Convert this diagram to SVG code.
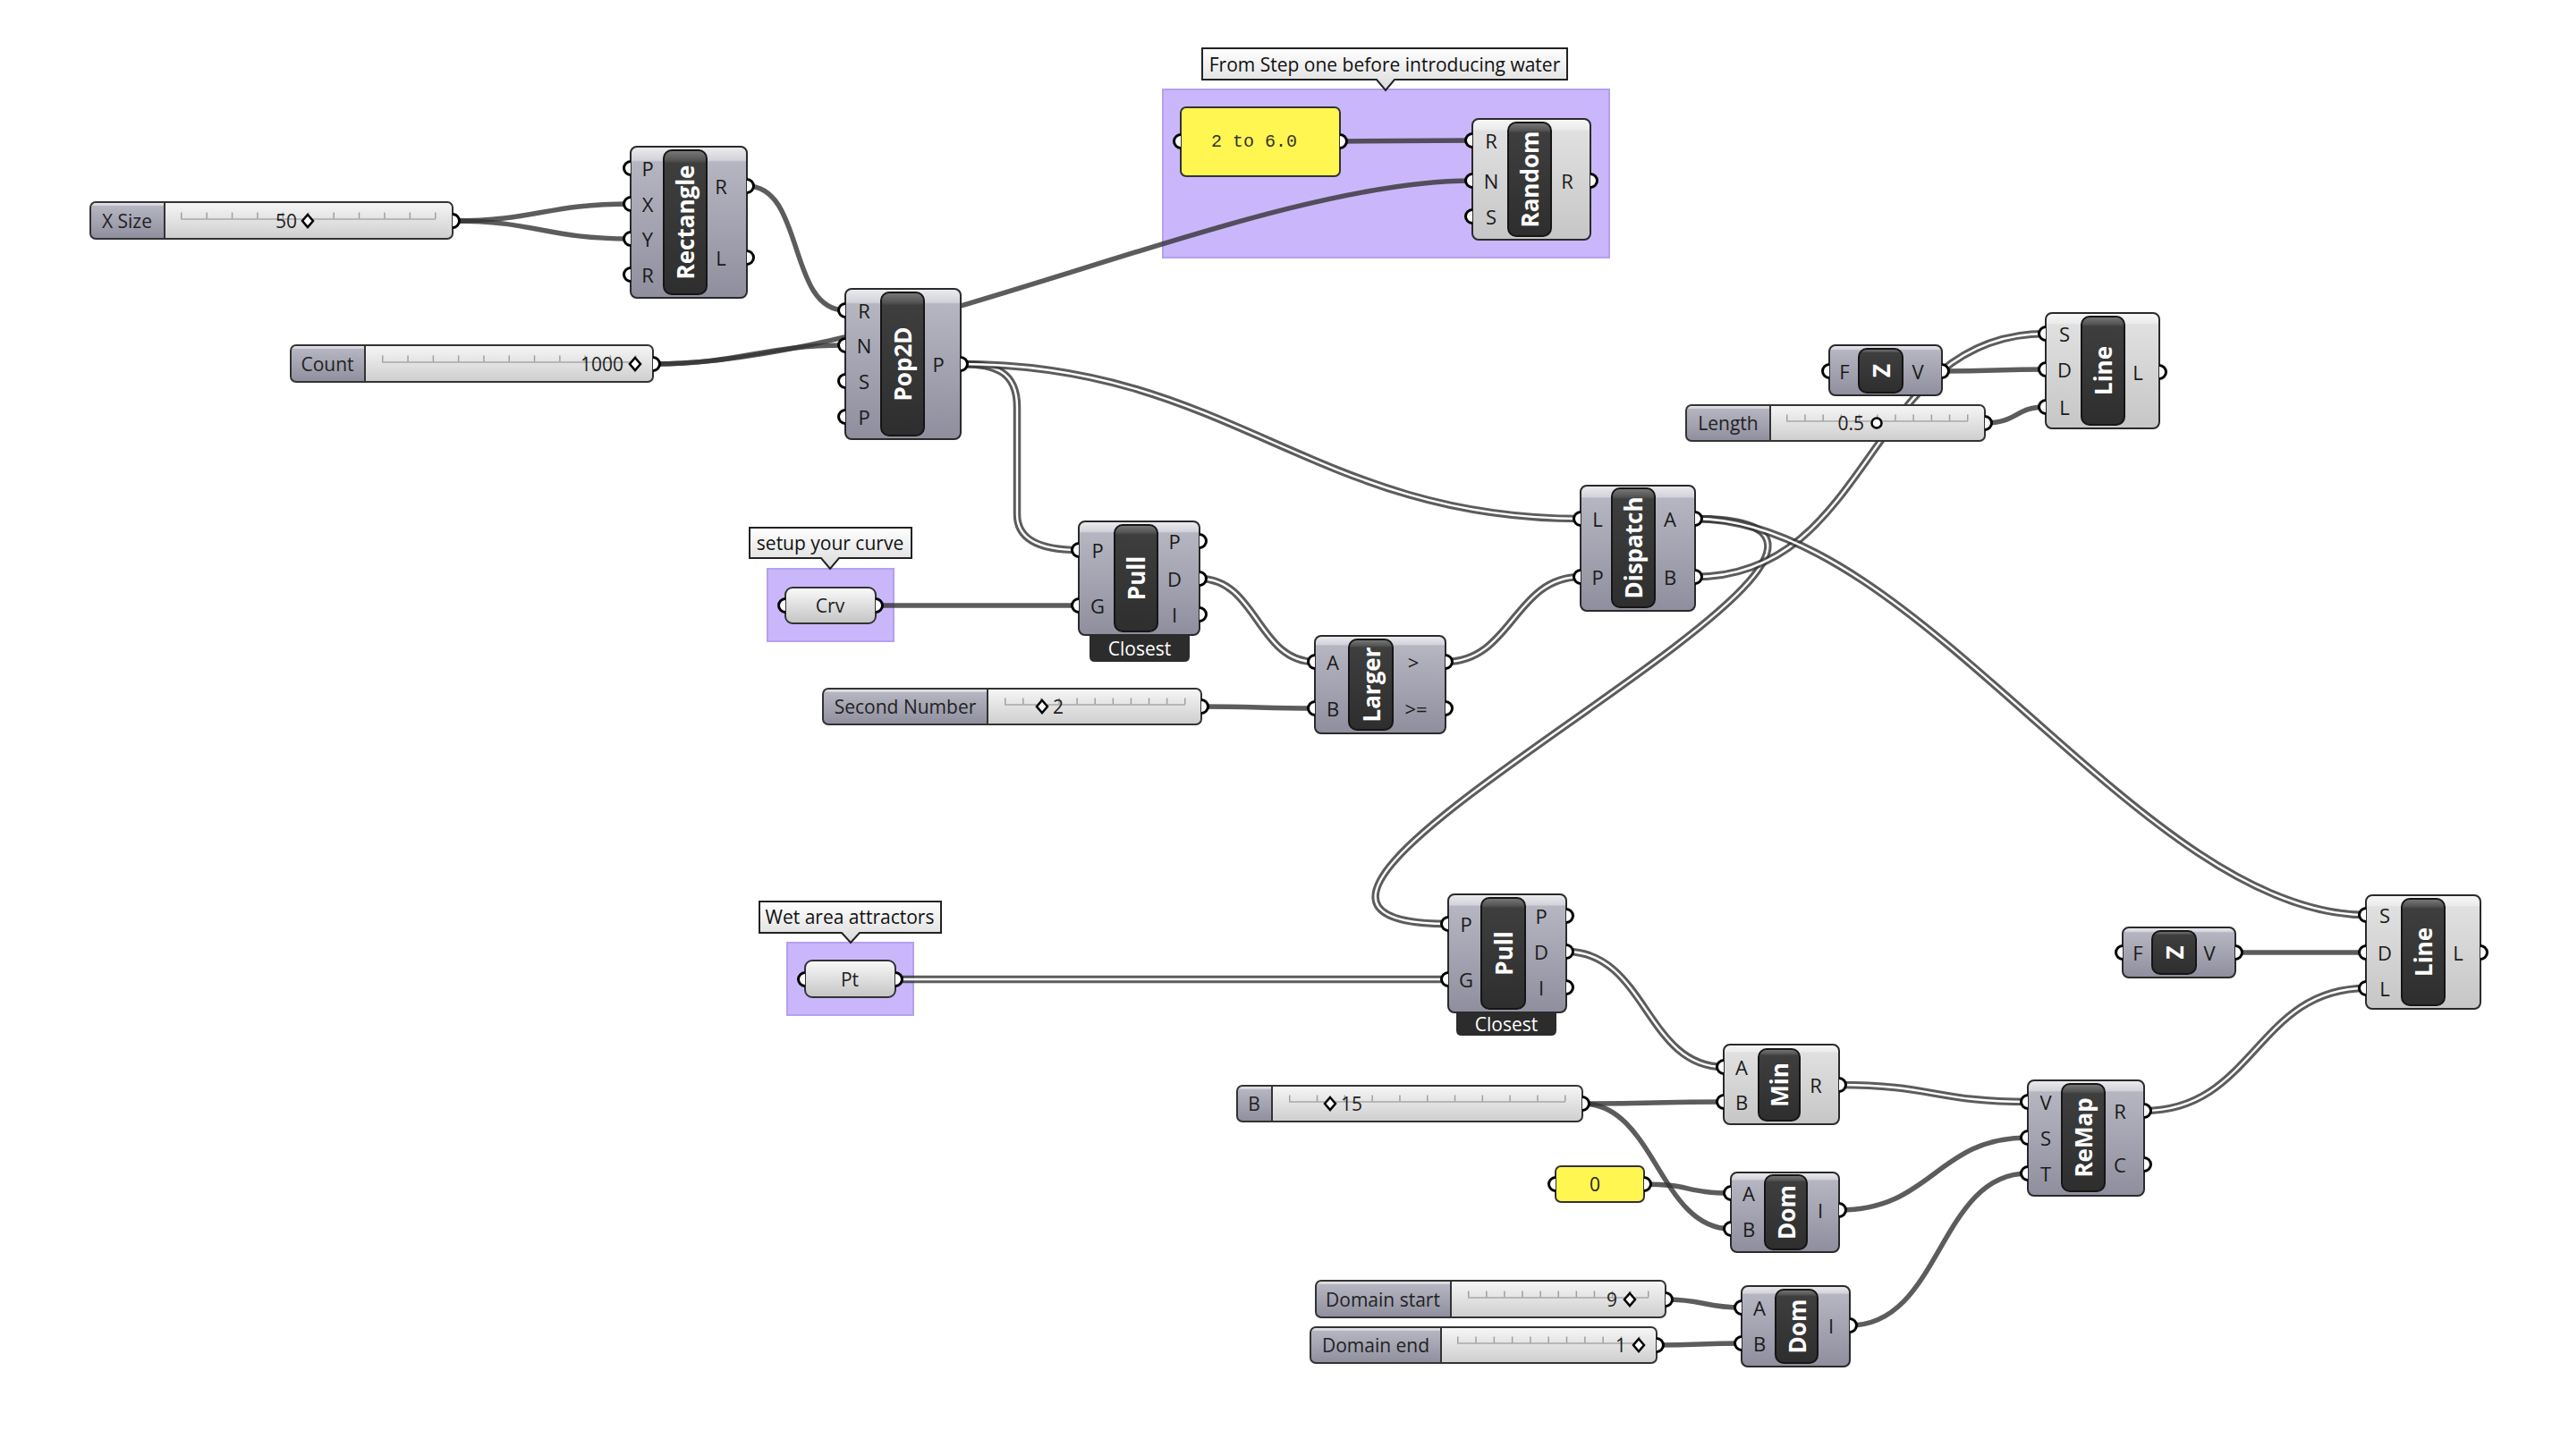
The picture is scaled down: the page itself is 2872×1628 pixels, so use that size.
<svg xmlns="http://www.w3.org/2000/svg" width="2872" height="1628" viewBox="0 0 2872 1628">
<style>
.body{fill:url(#gBody);stroke:#2a2a2a;stroke-width:2}
.lbody{fill:url(#gLight);stroke:#2a2a2a;stroke-width:2}
.pill{fill:url(#gPill);stroke:#151515;stroke-width:2}
.ttl{font-family:"Open Sans",sans-serif;font-weight:700;font-size:26px;fill:#fff;text-anchor:middle;dominant-baseline:central}
.pt{font-family:"Open Sans",sans-serif;font-size:22px;fill:#1a1a1a;text-anchor:middle;dominant-baseline:central}
.sl{font-family:"Open Sans",sans-serif;font-size:21px;fill:#222;text-anchor:middle;dominant-baseline:central}
.sv{font-family:"Open Sans",sans-serif;font-size:21px;fill:#222;dominant-baseline:central}
.pin{fill:#fff;stroke:#000;stroke-width:3}
.w{fill:none;stroke:#333;stroke-opacity:.8;stroke-width:5.5}
.w2{fill:none;stroke:#333;stroke-opacity:.8;stroke-width:8.5}
.w2i{fill:none;stroke:#fff;stroke-width:2.4}
.slab{fill:url(#gBody);}
.sval{fill:url(#gVal);}
.sout{fill:none;stroke:#333;stroke-width:2}
.tr{stroke:#a8a8a8;stroke-width:1.5}
.tk{fill:none;stroke:#a0a0a0;stroke-width:7}
.mk{fill:#fff;stroke:#000;stroke-width:2.5}
.param{fill:url(#gParam);stroke:#333;stroke-width:2}
.panel{fill:#fff651;stroke:#333;stroke-width:2}
.grp{fill:#cab7fb;stroke:#b5a0ec;stroke-width:2}
.tip{fill:url(#gTip);stroke:#222;stroke-width:2}
.tipt{font-family:"Open Sans",sans-serif;font-size:21px;fill:#111;text-anchor:middle;dominant-baseline:central}
.tag{fill:#2c2c2c}
.tagt{font-family:"Open Sans",sans-serif;font-size:21px;fill:#fff;text-anchor:middle;dominant-baseline:central}
.mono{font-family:"Liberation Mono",monospace;font-size:20px;fill:#333;text-anchor:middle;dominant-baseline:central}
</style>
<defs>
<linearGradient id="gBody" x1="0" y1="0" x2="0" y2="1">
<stop offset="0" stop-color="#ececf0"/><stop offset="0.09" stop-color="#d2d2da"/><stop offset="0.1" stop-color="#b6b6c2"/><stop offset="1" stop-color="#8e8e9e"/>
</linearGradient>
<linearGradient id="gLight" x1="0" y1="0" x2="0" y2="1">
<stop offset="0" stop-color="#f8f8f8"/><stop offset="0.09" stop-color="#ebebeb"/><stop offset="0.1" stop-color="#e0e0e0"/><stop offset="1" stop-color="#c6c6c6"/>
</linearGradient>
<linearGradient id="gPill" x1="0" y1="0" x2="0" y2="1">
<stop offset="0" stop-color="#7a7a7a"/><stop offset="0.07" stop-color="#545454"/><stop offset="0.09" stop-color="#3e3e3e"/><stop offset="1" stop-color="#2e2e2e"/>
</linearGradient>
<linearGradient id="gVal" x1="0" y1="0" x2="0" y2="1">
<stop offset="0" stop-color="#f6f6f6"/><stop offset="1" stop-color="#cecece"/>
</linearGradient>
<linearGradient id="gParam" x1="0" y1="0" x2="0" y2="1">
<stop offset="0" stop-color="#fafafa"/><stop offset="1" stop-color="#c4c4c4"/>
</linearGradient>
<linearGradient id="gTip" x1="0" y1="0" x2="0" y2="1">
<stop offset="0" stop-color="#ffffff"/><stop offset="1" stop-color="#dadada"/>
</linearGradient>
<path id="pl" d="M0,-7.5 A7.5,7.5 0 0 0 0,7.5"/>
<path id="pr" d="M0,-7.5 A7.5,7.5 0 0 1 0,7.5"/>
</defs>
<rect width="2872" height="1628" fill="#fff"/>

<g id="groups">
<rect class="grp" x="1300" y="100" width="499" height="188"/>
<rect class="grp" x="858" y="636" width="141" height="81"/>
<rect class="grp" x="880" y="1054" width="141" height="81"/>
</g>

<g id="connectors">
<path class="w" d="M506,247 C600,247 610,228 705,228"/>
<path class="w" d="M506,247 C600,247 610,267 705,267"/>
<path class="w" d="M835,208 C900,208 880,347 945,347"/>
<path class="w" d="M730,407 C830,407 850,386 945,386"/>
<path class="w" d="M730,407 C1000,407 1400,202 1646,202"/>
<path class="w" d="M1498,158 L1646,157"/>
<path class="w2" d="M1074,407 C1112,407 1137,415 1137,455 L1137,575 C1137,605 1165,615 1206,615"/>
<path class="w2i" d="M1074,407 C1112,407 1137,415 1137,455 L1137,575 C1137,605 1165,615 1206,615"/>
<path class="w2" d="M1074,407 C1374,407 1467,580 1767,580"/>
<path class="w2i" d="M1074,407 C1374,407 1467,580 1767,580"/>
<path class="w" d="M979,677 L1206,677"/>
<path class="w2" d="M1341,647 C1405,647 1406,740 1470,740"/>
<path class="w2i" d="M1341,647 C1405,647 1406,740 1470,740"/>
<path class="w" d="M1343,790 C1400,790 1415,792 1470,792"/>
<path class="w2" d="M1616,740 C1690,740 1693,645 1767,645"/>
<path class="w2i" d="M1616,740 C1690,740 1693,645 1767,645"/>
<path class="w2" d="M1895,580 C2261,580 1253,1033 1619,1033"/>
<path class="w2i" d="M1895,580 C2261,580 1253,1033 1619,1033"/>
<path class="w2" d="M1895,645 C2095,645 2087,373 2287,373"/>
<path class="w2i" d="M1895,645 C2095,645 2087,373 2287,373"/>
<path class="w2" d="M1895,580 C2145,580 2395,1023 2645,1023"/>
<path class="w2i" d="M1895,580 C2145,580 2395,1023 2645,1023"/>
<path class="w" d="M2171,415 C2230,415 2230,413 2287,413"/>
<path class="w" d="M2219,473 C2255,473 2253,455 2287,455"/>
<path class="w2" d="M1001,1095 L1619,1095"/>
<path class="w2i" d="M1001,1095 L1619,1095"/>
<path class="w2" d="M1751,1064 C1840,1064 1840,1193 1927,1193"/>
<path class="w2i" d="M1751,1064 C1840,1064 1840,1193 1927,1193"/>
<path class="w" d="M1769,1234 C1850,1234 1850,1232 1927,1232"/>
<path class="w" d="M1769,1234 C1850,1234 1855,1374 1935,1374"/>
<path class="w" d="M1838,1324 C1890,1324 1885,1334 1935,1334"/>
<path class="w" d="M1862,1453 C1905,1453 1905,1462 1947,1462"/>
<path class="w" d="M1852,1504 C1900,1504 1900,1502 1947,1502"/>
<path class="w2" d="M2056,1213 C2160,1213 2165,1232 2267,1232"/>
<path class="w2i" d="M2056,1213 C2160,1213 2165,1232 2267,1232"/>
<path class="w" d="M2056,1353 C2160,1353 2165,1272 2267,1272"/>
<path class="w" d="M2068,1482 C2170,1482 2167,1312 2267,1312"/>
<path class="w2" d="M2397,1242 C2520,1242 2523,1105 2645,1105"/>
<path class="w2i" d="M2397,1242 C2520,1242 2523,1105 2645,1105"/>
<path class="w" d="M2499,1065 L2645,1065"/>
</g>

<g id="tip-random">
<path class="tip" d="M1344,54 H1752 V89 H1559 L1549,101 L1539,89 H1344 Z"/>
<text class="tipt" x="1548" y="72">From Step one before introducing water</text>
</g>
<g id="tip-curve">
<path class="tip" d="M838,590 H1019 V624 H938 L928,636 L918,624 H838 Z"/>
<text class="tipt" x="928" y="607">setup your curve</text>
</g>
<g id="tip-wet">
<path class="tip" d="M849,1008 H1052 V1043 H961 L951,1054 L941,1043 H849 Z"/>
<text class="tipt" x="950" y="1025">Wet area attractors</text>
</g>

<g id="slider-xsize">
<rect class="slab" x="101" y="226" width="405" height="41" rx="6"/>
<rect class="sval" x="184" y="226" width="322" height="41" rx="6"/>
<rect class="sval" x="184" y="226" width="12" height="41"/>
<rect class="sout" x="101" y="226" width="405" height="41" rx="6"/>
<line x1="184" y1="226" x2="184" y2="267" stroke="#333" stroke-width="2"/>
<line class="tr" x1="202" y1="245" x2="487" y2="245"/>
<line class="tk" x1="202" y1="241" x2="488" y2="241" stroke-dasharray="1.5 26.9"/>
<text class="sl" x="142" y="247">X Size</text>
<text class="sv" x="332" y="247" text-anchor="end">50</text>
<polygon class="mk" points="344,240 350,247 344,254 338,247"/>
<use href="#pr" class="pin" x="506" y="247"/>
</g>

<g id="slider-count">
<rect class="slab" x="325" y="386" width="405" height="41" rx="6"/>
<rect class="sval" x="408" y="386" width="322" height="41" rx="6"/>
<rect class="sval" x="408" y="386" width="12" height="41"/>
<rect class="sout" x="325" y="386" width="405" height="41" rx="6"/>
<line x1="408" y1="386" x2="408" y2="427" stroke="#333" stroke-width="2"/>
<line class="tr" x1="427" y1="405" x2="711" y2="405"/>
<line class="tk" x1="427" y1="401" x2="712" y2="401" stroke-dasharray="1.5 26.8"/>
<text class="sl" x="366" y="407">Count</text>
<text class="sv" x="697" y="407" text-anchor="end">1000</text>
<polygon class="mk" points="710,400 716,407 710,414 704,407"/>
<use href="#pr" class="pin" x="730" y="407"/>
</g>

<g id="slider-second">
<rect class="slab" x="920" y="770" width="423" height="40" rx="6"/>
<rect class="sval" x="1104" y="770" width="239" height="40" rx="6"/>
<rect class="sval" x="1104" y="770" width="12" height="40"/>
<rect class="sout" x="920" y="770" width="423" height="40" rx="6"/>
<line x1="1104" y1="770" x2="1104" y2="810" stroke="#333" stroke-width="2"/>
<line class="tr" x1="1123" y1="788" x2="1325" y2="788"/>
<line class="tk" x1="1123" y1="784" x2="1326" y2="784" stroke-dasharray="1.5 18.6"/>
<text class="sl" x="1012" y="790">Second Number</text>
<polygon class="mk" points="1165,783 1171,790 1165,797 1159,790"/>
<text class="sv" x="1177" y="790">2</text>
<use href="#pr" class="pin" x="1343" y="790"/>
</g>

<g id="slider-b">
<rect class="slab" x="1383" y="1214" width="386" height="40" rx="6"/>
<rect class="sval" x="1422" y="1214" width="347" height="40" rx="6"/>
<rect class="sval" x="1422" y="1214" width="12" height="40"/>
<rect class="sout" x="1383" y="1214" width="386" height="40" rx="6"/>
<line x1="1422" y1="1214" x2="1422" y2="1254" stroke="#333" stroke-width="2"/>
<line class="tr" x1="1441" y1="1232" x2="1750" y2="1232"/>
<line class="tk" x1="1441" y1="1228" x2="1751" y2="1228" stroke-dasharray="1.5 29.3"/>
<text class="sl" x="1402" y="1234">B</text>
<polygon class="mk" points="1487,1227 1493,1234 1487,1241 1481,1234"/>
<text class="sv" x="1499" y="1234">15</text>
<use href="#pr" class="pin" x="1769" y="1234"/>
</g>

<g id="slider-length">
<rect class="slab" x="1885" y="453" width="334" height="40" rx="6"/>
<rect class="sval" x="1979" y="453" width="240" height="40" rx="6"/>
<rect class="sval" x="1979" y="453" width="12" height="40"/>
<rect class="sout" x="1885" y="453" width="334" height="40" rx="6"/>
<line x1="1979" y1="453" x2="1979" y2="493" stroke="#333" stroke-width="2"/>
<line class="tr" x1="1997" y1="471" x2="2200" y2="471"/>
<line class="tk" x1="1997" y1="467" x2="2201" y2="467" stroke-dasharray="1.5 18.7"/>
<text class="sl" x="1932" y="473">Length</text>
<text class="sv" x="2084" y="473" text-anchor="end">0.5</text>
<circle class="mk" cx="2098" cy="473" r="5.5" stroke-width="3"/>
<use href="#pr" class="pin" x="2219" y="473"/>
</g>

<g id="slider-domain-start">
<rect class="slab" x="1471" y="1432" width="391" height="41" rx="6"/>
<rect class="sval" x="1622" y="1432" width="240" height="41" rx="6"/>
<rect class="sval" x="1622" y="1432" width="12" height="41"/>
<rect class="sout" x="1471" y="1432" width="391" height="41" rx="6"/>
<line x1="1622" y1="1432" x2="1622" y2="1473" stroke="#333" stroke-width="2"/>
<line class="tr" x1="1641" y1="1451" x2="1843" y2="1451"/>
<line class="tk" x1="1641" y1="1447" x2="1844" y2="1447" stroke-dasharray="1.5 18.6"/>
<text class="sl" x="1546" y="1453">Domain start</text>
<text class="sv" x="1808" y="1453" text-anchor="end">9</text>
<polygon class="mk" points="1822,1446 1828,1453 1822,1460 1816,1453"/>
<use href="#pr" class="pin" x="1862" y="1453"/>
</g>

<g id="slider-domain-end">
<rect class="slab" x="1465" y="1484" width="387" height="40" rx="6"/>
<rect class="sval" x="1611" y="1484" width="241" height="40" rx="6"/>
<rect class="sval" x="1611" y="1484" width="12" height="40"/>
<rect class="sout" x="1465" y="1484" width="387" height="40" rx="6"/>
<line x1="1611" y1="1484" x2="1611" y2="1524" stroke="#333" stroke-width="2"/>
<line class="tr" x1="1629" y1="1502" x2="1833" y2="1502"/>
<line class="tk" x1="1629" y1="1498" x2="1834" y2="1498" stroke-dasharray="1.5 18.8"/>
<text class="sl" x="1538" y="1504">Domain end</text>
<text class="sv" x="1818" y="1504" text-anchor="end">1</text>
<polygon class="mk" points="1832,1497 1838,1504 1832,1511 1826,1504"/>
<use href="#pr" class="pin" x="1852" y="1504"/>
</g>

<g id="panel-range">
<rect class="panel" x="1320" y="120" width="178" height="77" rx="6"/>
<text class="mono" x="1402" y="158">2 to 6.0</text>
<use href="#pl" class="pin" x="1320" y="158"/>
<use href="#pr" class="pin" x="1498" y="158"/>
</g>

<g id="panel-zero">
<rect class="panel" x="1739" y="1304" width="99" height="40" rx="6"/>
<text class="sl" x="1783" y="1324" font-size="19" fill="#444">0</text>
<use href="#pl" class="pin" x="1739" y="1324"/>
<use href="#pr" class="pin" x="1838" y="1324"/>
</g>

<g id="param-crv">
<rect class="param" x="878" y="657" width="101" height="40" rx="8"/>
<text class="sl" x="928" y="677">Crv</text>
<use href="#pl" class="pin" x="878" y="677"/>
<use href="#pr" class="pin" x="979" y="677"/>
</g>

<g id="param-pt">
<rect class="param" x="900" y="1074" width="101" height="41" rx="8"/>
<text class="sl" x="950" y="1095">Pt</text>
<use href="#pl" class="pin" x="900" y="1095"/>
<use href="#pr" class="pin" x="1001" y="1095"/>
</g>

<g id="rectangle">
<rect class="body" x="705" y="164" width="130" height="169" rx="7"/>
<rect class="pill" x="742" y="168" width="48" height="161" rx="9"/>
<text class="ttl" transform="translate(766,248.5) rotate(-90)">Rectangle</text>
<text class="pt" x="724" y="188">P</text><text class="pt" x="724" y="228">X</text><text class="pt" x="724" y="267">Y</text><text class="pt" x="724" y="307">R</text>
<text class="pt" x="806" y="208">R</text><text class="pt" x="806" y="288">L</text>
<use href="#pl" class="pin" x="705" y="188"/><use href="#pl" class="pin" x="705" y="228"/><use href="#pl" class="pin" x="705" y="267"/><use href="#pl" class="pin" x="705" y="307"/>
<use href="#pr" class="pin" x="835" y="208"/><use href="#pr" class="pin" x="835" y="288"/>
</g>

<g id="pop2d">
<rect class="body" x="945" y="323" width="129" height="168" rx="7"/>
<rect class="pill" x="985" y="327" width="48" height="160" rx="9"/>
<text class="ttl" transform="translate(1009,407) rotate(-90)">Pop2D</text>
<text class="pt" x="966" y="347">R</text><text class="pt" x="966" y="386">N</text><text class="pt" x="966" y="426">S</text><text class="pt" x="966" y="466">P</text>
<text class="pt" x="1049" y="407">P</text>
<use href="#pl" class="pin" x="945" y="347"/><use href="#pl" class="pin" x="945" y="386"/><use href="#pl" class="pin" x="945" y="426"/><use href="#pl" class="pin" x="945" y="466"/>
<use href="#pr" class="pin" x="1074" y="407"/>
</g>

<g id="random">
<rect class="lbody" x="1646" y="133" width="132" height="135" rx="7"/>
<rect class="pill" x="1686" y="137" width="48" height="127" rx="9"/>
<text class="ttl" transform="translate(1710,200.5) rotate(-90)">Random</text>
<text class="pt" x="1667" y="157">R</text><text class="pt" x="1667" y="202">N</text><text class="pt" x="1667" y="242">S</text>
<text class="pt" x="1752" y="202">R</text>
<use href="#pl" class="pin" x="1646" y="157"/><use href="#pl" class="pin" x="1646" y="202"/><use href="#pl" class="pin" x="1646" y="242"/>
<use href="#pr" class="pin" x="1778" y="202"/>
</g>

<g id="pull-curve">
<path class="tag" d="M1218,700 H1330 V734 Q1330,740 1324,740 H1224 Q1218,740 1218,734 Z"/>
<text class="tagt" x="1274" y="725">Closest</text>
<rect class="body" x="1206" y="583" width="135" height="127" rx="7"/>
<rect class="pill" x="1246" y="587" width="48" height="119" rx="9"/>
<text class="ttl" transform="translate(1270,646.5) rotate(-90)">Pull</text>
<text class="pt" x="1227" y="615">P</text><text class="pt" x="1227" y="677">G</text>
<text class="pt" x="1313" y="605">P</text><text class="pt" x="1313" y="647">D</text><text class="pt" x="1313" y="687">I</text>
<use href="#pl" class="pin" x="1206" y="615"/><use href="#pl" class="pin" x="1206" y="677"/>
<use href="#pr" class="pin" x="1341" y="605"/><use href="#pr" class="pin" x="1341" y="647"/><use href="#pr" class="pin" x="1341" y="687"/>
</g>

<g id="larger">
<rect class="body" x="1470" y="711" width="146" height="109" rx="7"/>
<rect class="pill" x="1508" y="715" width="49" height="101" rx="9"/>
<text class="ttl" transform="translate(1532.5,765.5) rotate(-90)">Larger</text>
<text class="pt" x="1490" y="740">A</text><text class="pt" x="1490" y="792">B</text>
<text class="pt" x="1580" y="740">&gt;</text><text class="pt" x="1583" y="792">&gt;=</text>
<use href="#pl" class="pin" x="1470" y="740"/><use href="#pl" class="pin" x="1470" y="792"/>
<use href="#pr" class="pin" x="1616" y="740"/><use href="#pr" class="pin" x="1616" y="792"/>
</g>

<g id="dispatch">
<rect class="body" x="1767" y="543" width="128" height="140" rx="7"/>
<rect class="pill" x="1802" y="546" width="48" height="133" rx="9"/>
<text class="ttl" transform="translate(1826,612.5) rotate(-90)">Dispatch</text>
<text class="pt" x="1786" y="580">L</text><text class="pt" x="1786" y="645">P</text>
<text class="pt" x="1867" y="580">A</text><text class="pt" x="1867" y="645">B</text>
<use href="#pl" class="pin" x="1767" y="580"/><use href="#pl" class="pin" x="1767" y="645"/>
<use href="#pr" class="pin" x="1895" y="580"/><use href="#pr" class="pin" x="1895" y="645"/>
</g>

<g id="unitz-top">
<rect class="body" x="2045" y="386" width="126" height="56" rx="7"/>
<rect class="pill" x="2078" y="390" width="49" height="49" rx="9"/>
<text class="ttl" transform="translate(2102.5,414.5) rotate(-90)">Z</text>
<text class="pt" x="2062" y="415">F</text><text class="pt" x="2144" y="415">V</text>
<use href="#pl" class="pin" x="2045" y="415"/><use href="#pr" class="pin" x="2171" y="415"/>
</g>

<g id="line-top">
<rect class="lbody" x="2287" y="350" width="127" height="129" rx="7"/>
<rect class="pill" x="2327" y="354" width="48" height="121" rx="9"/>
<text class="ttl" transform="translate(2351,414.5) rotate(-90)">Line</text>
<text class="pt" x="2308" y="373">S</text><text class="pt" x="2308" y="413">D</text><text class="pt" x="2308" y="455">L</text>
<text class="pt" x="2390" y="416">L</text>
<use href="#pl" class="pin" x="2287" y="373"/><use href="#pl" class="pin" x="2287" y="413"/><use href="#pl" class="pin" x="2287" y="455"/>
<use href="#pr" class="pin" x="2414" y="416"/>
</g>

<g id="pull-points">
<path class="tag" d="M1628,1122 H1740 V1152 Q1740,1158 1734,1158 H1634 Q1628,1158 1628,1152 Z"/>
<text class="tagt" x="1684" y="1145">Closest</text>
<rect class="body" x="1619" y="1000" width="132" height="132" rx="7"/>
<rect class="pill" x="1656" y="1004" width="49" height="124" rx="9"/>
<text class="ttl" transform="translate(1680.5,1066) rotate(-90)">Pull</text>
<text class="pt" x="1639" y="1033">P</text><text class="pt" x="1639" y="1095">G</text>
<text class="pt" x="1723" y="1024">P</text><text class="pt" x="1723" y="1064">D</text><text class="pt" x="1723" y="1104">I</text>
<use href="#pl" class="pin" x="1619" y="1033"/><use href="#pl" class="pin" x="1619" y="1095"/>
<use href="#pr" class="pin" x="1751" y="1024"/><use href="#pr" class="pin" x="1751" y="1064"/><use href="#pr" class="pin" x="1751" y="1104"/>
</g>

<g id="min">
<rect class="lbody" x="1927" y="1168" width="129" height="89" rx="7"/>
<rect class="pill" x="1966" y="1173" width="46" height="80" rx="9"/>
<text class="ttl" transform="translate(1989,1213) rotate(-90)">Min</text>
<text class="pt" x="1947" y="1193">A</text><text class="pt" x="1947" y="1232">B</text>
<text class="pt" x="2030" y="1213">R</text>
<use href="#pl" class="pin" x="1927" y="1193"/><use href="#pl" class="pin" x="1927" y="1232"/>
<use href="#pr" class="pin" x="2056" y="1213"/>
</g>

<g id="dom-mid">
<rect class="body" x="1935" y="1311" width="121" height="89" rx="7"/>
<rect class="pill" x="1973" y="1314" width="47" height="83" rx="9"/>
<text class="ttl" transform="translate(1996.5,1355.5) rotate(-90)">Dom</text>
<text class="pt" x="1955" y="1334">A</text><text class="pt" x="1955" y="1374">B</text>
<text class="pt" x="2035" y="1353">I</text>
<use href="#pl" class="pin" x="1935" y="1334"/><use href="#pl" class="pin" x="1935" y="1374"/>
<use href="#pr" class="pin" x="2056" y="1353"/>
</g>

<g id="dom-bottom">
<rect class="body" x="1947" y="1438" width="121" height="90" rx="7"/>
<rect class="pill" x="1985" y="1442" width="47" height="82" rx="9"/>
<text class="ttl" transform="translate(2008.5,1483) rotate(-90)">Dom</text>
<text class="pt" x="1967" y="1462">A</text><text class="pt" x="1967" y="1502">B</text>
<text class="pt" x="2047" y="1482">I</text>
<use href="#pl" class="pin" x="1947" y="1462"/><use href="#pl" class="pin" x="1947" y="1502"/>
<use href="#pr" class="pin" x="2068" y="1482"/>
</g>

<g id="remap">
<rect class="body" x="2267" y="1208" width="130" height="129" rx="7"/>
<rect class="pill" x="2305" y="1212" width="48" height="120" rx="9"/>
<text class="ttl" transform="translate(2329,1272) rotate(-90)">ReMap</text>
<text class="pt" x="2287" y="1232">V</text><text class="pt" x="2287" y="1272">S</text><text class="pt" x="2287" y="1312">T</text>
<text class="pt" x="2370" y="1242">R</text><text class="pt" x="2370" y="1302">C</text>
<use href="#pl" class="pin" x="2267" y="1232"/><use href="#pl" class="pin" x="2267" y="1272"/><use href="#pl" class="pin" x="2267" y="1312"/>
<use href="#pr" class="pin" x="2397" y="1242"/><use href="#pr" class="pin" x="2397" y="1302"/>
</g>

<g id="unitz-bottom">
<rect class="body" x="2373" y="1037" width="126" height="56" rx="7"/>
<rect class="pill" x="2406" y="1041" width="49" height="48" rx="9"/>
<text class="ttl" transform="translate(2430.5,1065) rotate(-90)">Z</text>
<text class="pt" x="2390" y="1065">F</text><text class="pt" x="2470" y="1065">V</text>
<use href="#pl" class="pin" x="2373" y="1065"/><use href="#pr" class="pin" x="2499" y="1065"/>
</g>

<g id="line-bottom">
<rect class="lbody" x="2645" y="1001" width="128" height="127" rx="7"/>
<rect class="pill" x="2685" y="1005" width="48" height="119" rx="9"/>
<text class="ttl" transform="translate(2709,1064.5) rotate(-90)">Line</text>
<text class="pt" x="2666" y="1023">S</text><text class="pt" x="2666" y="1065">D</text><text class="pt" x="2666" y="1105">L</text>
<text class="pt" x="2748" y="1065">L</text>
<use href="#pl" class="pin" x="2645" y="1023"/><use href="#pl" class="pin" x="2645" y="1065"/><use href="#pl" class="pin" x="2645" y="1105"/>
<use href="#pr" class="pin" x="2773" y="1065"/>
</g>
</svg>
